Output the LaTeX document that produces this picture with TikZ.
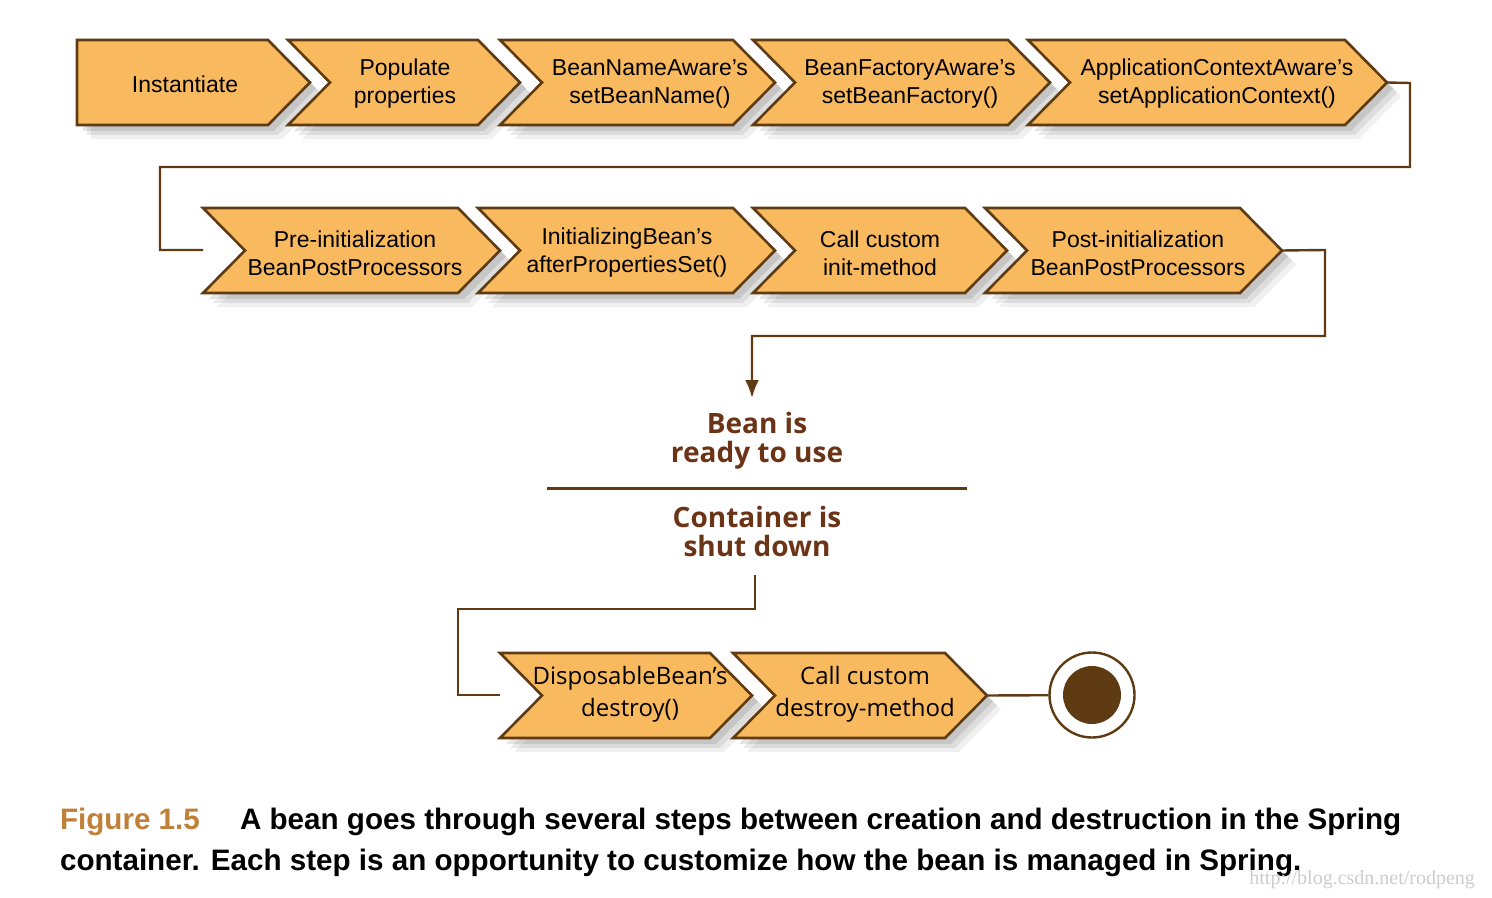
\documentclass[tikz,border=0pt]{standalone}
\usepackage{fontspec}
\setmainfont{Liberation Sans}
\newfontfamily\hd{Open Sans}
\newfontfamily\serifw{Liberation Serif}
\usetikzlibrary{calc,arrows.meta}
\definecolor{chev}{HTML}{F9B95E}
\definecolor{brd}{HTML}{5E3B12}
\definecolor{tx}{HTML}{6B3416}
\definecolor{fig}{HTML}{C08038}
\begin{document}
\begin{tikzpicture}[x=0.5pt,y=-0.5pt,
  lbl/.style={font=\fontsize{11.5}{14}\selectfont,align=center,text=black},
  conn/.style={draw=brd,line width=1.2pt},
  hdr/.style={font=\hd\bfseries\fontsize{14}{14.5}\selectfont,text=tx,align=center}]
\useasboundingbox (0,0) rectangle (1492,898);
% shadow: #1 left, #2 right, #3 top, #4 notch
\newcommand{\shd}[4]{%
  \pgfmathsetmacro{\bt}{#3+85}\pgfmathsetmacro{\cy}{#3+42.5}\pgfmathsetmacro{\nn}{#4*42}%
  \foreach \o/\op in {14/0.06,10/0.08,6/0.10}{%
    \fill[black,opacity=\op] ({#1+\o},{#3+\o}) -- ({#2+\o},{#3+\o}) -- ({#2+42+\o},{\cy+\o}) -- ({#2+\o},{\bt+\o}) -- ({#1+\o},{\bt+\o}) -- ({#1+\nn+\o},{\cy+\o}) -- cycle;}}
\newcommand{\chv}[5]{%
  \pgfmathsetmacro{\bt}{#3+85}\pgfmathsetmacro{\cy}{#3+42.5}\pgfmathsetmacro{\nn}{#4*42}%
  \draw[fill=chev,draw=brd,line width=1.3pt] (#1,#3) -- (#2,#3) -- ({#2+42},\cy) -- (#2,\bt) -- (#1,\bt) -- ({#1+\nn},\cy) -- cycle;
  \coordinate (#5tip) at ({#2+42},\cy);
}
\foreach \l/\r/\t/\n in {77/268/40/0,288/478/40/1,500/733/40/1,753/1008/40/1,1028/1345/40/1,203/458/208/1,478/733/208/1,753/965/208/1,985/1240/208/1,500/710/653/1,733/945/653/1}{\shd{\l}{\r}{\t}{\n}}
\chv{77}{268}{40}{0}{a}
\chv{288}{478}{40}{1}{b}
\chv{500}{733}{40}{1}{c}
\chv{753}{1008}{40}{1}{d}
\chv{1028}{1345}{40}{1}{e}
\chv{203}{458}{208}{1}{f}
\chv{478}{733}{208}{1}{g}
\chv{753}{965}{208}{1}{h}
\chv{985}{1240}{208}{1}{i}
\chv{500}{710}{653}{1}{j}
\chv{733}{945}{653}{1}{k}
\node[lbl] (ta) at (185,84) {Instantiate};
\node[lbl] (tb) at (405,84) {Populate\\properties};
\node[lbl] (tc) at (650,84) {BeanNameAware's\\setBeanName()};
\node[lbl] (td) at (910,84) {BeanFactoryAware's\\setBeanFactory()};
\node[lbl] (te) at (1217,84) {ApplicationContextAware's\\setApplicationContext()};
\node[lbl] (tf) at (355,253) {Pre-initialization\\BeanPostProcessors};
\node[lbl] (tg) at (627,253) {InitializingBean's\\afterPropertiesSet()};
\node[lbl] (th) at (880,253) {Call custom\\init-method};
\node[lbl] (ti) at (1138,253) {Post-initialization\\BeanPostProcessors};
\node[lbl,font=\hd\fontsize{12}{16}\selectfont] (tj) at (630,694) {DisposableBean’s\\destroy()};
\node[lbl,font=\hd\fontsize{12}{16}\selectfont] (tk) at (865,694) {Call custom\\destroy-method};
\draw[conn] (etip) -- (1410,83) -- (1410,167) -- (160,167) -- (160,250) -- (203,250);
\coordinate (ready) at (752,398);
\draw[conn,-{Latex[length=9pt,width=7pt]}] (itip) -- (1325,250) -- (1325,336) -- (752,336) -- (ready);
\node[hdr] (bean) at (757,441) {Bean is\\ready to use};
\draw[brd,line width=1.5pt] (547,488) -- (967,488);
\node[hdr] (cont) at (757,531) {Container is\\shut down};
\coordinate (sd) at (755,575);
\draw[conn] (sd) -- (755,609) -- (458,609) -- (458,695) -- (500,695);
\node[circle,draw=brd,line width=1.2pt,fill=white,minimum size=42.5pt] (endc) at (1092,695) {};
\fill[brd] (endc.center) circle (29);
\draw[conn] (ktip) -- (endc);
\node[anchor=west,font=\bfseries\fontsize{14.8}{15}\selectfont,text=fig] (figl) at (53,822) {Figure 1.5};
\node[anchor=west,font=\bfseries\fontsize{14.8}{15}\selectfont] (cap1) at (233,822) {A bean goes through several steps between creation and destruction in the Spring};
\node[anchor=west,font=\bfseries\fontsize{14.8}{15}\selectfont] (cap2) at (53,863) {container. Each step is an opportunity to customize how the bean is managed in Spring.};
\node[anchor=east,font=\serifw\fontsize{10}{10}\selectfont,text=gray!40] (wm) at (1482,880) {http://blog.csdn.net/rodpeng};
\end{tikzpicture}
\end{document}
